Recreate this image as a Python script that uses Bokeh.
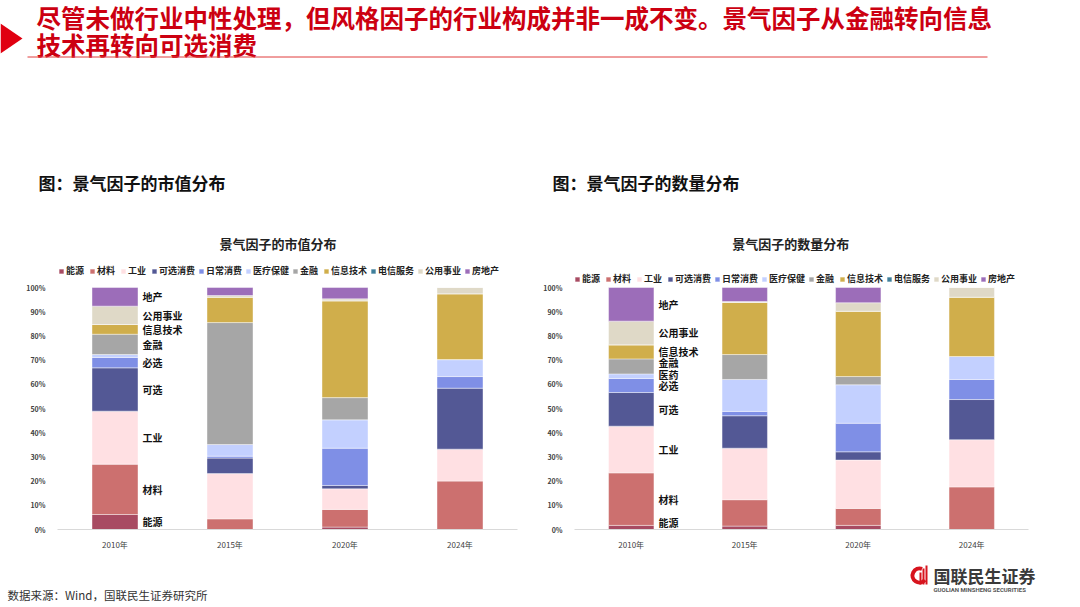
from bokeh.plotting import figure
from bokeh.models import Range1d, FixedTicker, PrintfTickFormatter, ColumnDataSource
from bokeh.layouts import column, row
from bokeh.embed import file_html
from bokeh.resources import INLINE
from bokeh.core.properties import value

# ---------------- data ----------------
years = ["2010年", "2015年", "2020年", "2024年"]
sectors = ["能源", "材料", "工业", "可选消费", "日常消费", "医疗保健", "金融",
           "信息技术", "电信服务", "公用事业", "房地产"]
colors = ["#A84B62", "#CC706F", "#FFE0E3", "#535895", "#7F8FE6", "#C3D0FF",
          "#A6A6A6", "#D0AE4B", "#3F7F9B", "#DFD9C7", "#9C6DB9"]

# 市值分布 (%), one list per sector across years
mv_energy     = [6.2, 0.0, 1.0, 0.0]
mv_materials  = [20.8, 4.4, 7.3, 20.0]
mv_industry   = [21.9, 18.7, 8.5, 13.2]
mv_discret    = [17.9, 6.4, 1.4, 25.2]
mv_staples    = [4.3, 0.8, 15.4, 4.8]
mv_health     = [1.2, 4.8, 11.7, 7.0]
mv_finance    = [8.4, 50.4, 9.2, 0.0]
mv_it         = [4.0, 10.5, 40.0, 27.2]
mv_telecom    = [0.0, 0.0, 0.0, 0.0]
mv_utilities  = [7.6, 0.7, 0.8, 2.6]
mv_realestate = [7.7, 3.3, 4.7, 0.0]

# 数量分布 (%)
ct_energy     = [1.7, 1.4, 1.7, 0.0]
ct_materials  = [21.7, 10.9, 7.0, 17.6]
ct_industry   = [19.3, 21.3, 20.0, 19.5]
ct_discret    = [13.9, 13.4, 3.4, 16.6]
ct_staples    = [5.8, 1.8, 11.8, 8.3]
ct_health     = [1.9, 13.2, 15.9, 9.5]
ct_finance    = [6.2, 10.3, 3.4, 0.0]
ct_it         = [5.8, 21.5, 27.0, 24.5]
ct_telecom    = [0.0, 0.0, 0.0, 0.0]
ct_utilities  = [9.8, 0.4, 3.5, 4.0]
ct_realestate = [13.9, 5.8, 6.3, 0.0]

mv_series = [mv_energy, mv_materials, mv_industry, mv_discret, mv_staples, mv_health,
             mv_finance, mv_it, mv_telecom, mv_utilities, mv_realestate]
ct_series = [ct_energy, ct_materials, ct_industry, ct_discret, ct_staples, ct_health,
             ct_finance, ct_it, ct_telecom, ct_utilities, ct_realestate]

# in-chart annotation labels (text, sector index) for the 2010 bar
mv_labels = [("能源", 0), ("材料", 1), ("工业", 2), ("可选", 3), ("必选", 4),
             ("金融", 6), ("信息技术", 7), ("公用事业", 9), ("地产", 10)]
ct_labels = [("能源", 0), ("材料", 1), ("工业", 2), ("可选", 3), ("必选", 4), ("医药", 5),
             ("金融", 6), ("信息技术", 7), ("公用事业", 9), ("地产", 10)]

header_title_1 = "尽管未做行业中性处理，但风格因子的行业构成并非一成不变。景气因子从金融转向信息"
header_title_2 = "技术再转向可选消费"
sub_left = "图：景气因子的市值分布"
sub_right = "图：景气因子的数量分布"
chart_title_left = "景气因子的市值分布"
chart_title_right = "景气因子的数量分布"
source_text = "数据来源：Wind，国联民生证券研究所"

FONT = value("Noto Sans CJK SC")
FONT_NAME = "Noto Sans CJK SC"

# ---------------- header (page coords 0..1064 x 0..200) ----------------
W = 1064
header = figure(width=W, height=200, x_range=Range1d(0, W), y_range=Range1d(200, 0),
                output_backend="svg", toolbar_location=None, min_border=0)
header.axis.visible = False
header.grid.visible = False
header.outline_line_color = None
header.patch([0, 0, 22], [23, 53, 38], color="#E00010", line_color=None)
header.text([36, 36], [17, 44], text=[header_title_1, header_title_2], text_font=FONT,
            text_font_size="24.5px", text_font_style="bold", text_color="#CC0011",
            text_baseline="middle", text_align="left")
header.line([27, 987], [56.5, 56.5], line_color="#E03C3C", line_width=1)
header.text([38, 552], [182, 182], text=[sub_left, sub_right], text_font=FONT,
            text_font_size="17px", text_font_style="bold", text_color="#111111",
            text_baseline="middle", text_align="left")

# ---------------- charts (page y 200..555) ----------------
CH_H = 355
FRAME_BOTTOM = 329          # figure px
PX_PER_UNIT = 2.42
Y_TOP = 100 + (FRAME_BOTTOM - 242) / PX_PER_UNIT
MIN_GAP = 4.7               # minimal vertical gap between segment labels (units)


def make_chart(series, labels, title, width, min_left, min_right, frame_left_page,
               title_x_page, legend_loc):
    data = {"x": list(range(len(years)))}
    for name, vals in zip(sectors, series):
        data[name] = vals
    src = ColumnDataSource(data)
    p = figure(width=width, height=CH_H, x_range=Range1d(-0.5, 3.5),
               y_range=Range1d(0, Y_TOP), output_backend="svg", toolbar_location=None,
               min_border_left=min_left, min_border_right=min_right,
               min_border_top=0, min_border_bottom=CH_H - FRAME_BOTTOM)
    p.outline_line_color = None
    p.grid.visible = False
    p.vbar_stack(sectors, x="x", width=0.4, color=colors, source=src,
                 line_color="white", line_width=0.6, line_alpha=0.7,
                 legend_label=sectors)

    # axes
    p.yaxis.ticker = FixedTicker(ticks=list(range(0, 101, 10)))
    p.yaxis.formatter = PrintfTickFormatter(format="%d%%")
    p.yaxis.axis_line_color = None
    p.yaxis.major_tick_line_color = None
    p.yaxis.minor_tick_line_color = None
    p.yaxis.major_label_text_font = FONT_NAME
    p.yaxis.major_label_text_font_size = "7px"
    p.yaxis.major_label_text_font_style = "bold"
    p.yaxis.major_label_text_color = "#404040"
    p.yaxis.major_label_standoff = 6

    p.xaxis.ticker = FixedTicker(ticks=list(range(len(years))))
    p.xaxis.major_label_overrides = {i: y for i, y in enumerate(years)}
    p.xaxis.axis_line_color = "#D9D9D9"
    p.xaxis.axis_line_width = 1.2
    p.xaxis.major_tick_line_color = None
    p.xaxis.minor_tick_line_color = None
    p.xaxis.major_label_text_font = FONT_NAME
    p.xaxis.major_label_text_font_size = "8px"
    p.xaxis.major_label_text_color = "#404040"
    p.xaxis.major_label_standoff = 3

    # legend
    lg = p.legend[0]
    lg.orientation = "horizontal"
    lg.location = legend_loc
    lg.label_text_font = FONT_NAME
    lg.label_text_font_size = "9px"
    lg.label_text_font_style = "bold"
    lg.label_text_color = "#222222"
    lg.glyph_width = 6
    lg.glyph_height = 6
    lg.label_standoff = 2
    lg.spacing = 3
    lg.padding = 0
    lg.margin = 0
    lg.label_height = 10
    lg.background_fill_alpha = 0
    lg.border_line_alpha = 0

    # chart title (positioned in data space of the frame)
    tx = (title_x_page - frame_left_page) / 115.0 - 0.5
    ty = Y_TOP - 43 / PX_PER_UNIT
    p.text([tx], [ty], text=[title], text_font=FONT, text_font_size="13px",
           text_font_style="bold", text_color="#222222", text_align="center",
           text_baseline="middle")

    # segment labels next to the 2010 bar, at segment midpoints (de-overlapped)
    first = [s[0] for s in series]
    lx, ly, lt = [], [], []
    prev = -100.0
    for txt, idx in labels:
        base = sum(first[:idx])
        mid = max(base + first[idx] / 2.0, 3.0, prev + MIN_GAP)
        prev = mid
        lx.append(0.24)
        ly.append(mid)
        lt.append(txt)
    p.text(lx, ly, text=lt, text_font=FONT, text_font_size="10px",
           text_font_style="bold", text_color="#111111", text_align="left",
           text_baseline="middle")
    return p


left = make_chart(mv_series, mv_labels, chart_title_left, 540, 57, 23, 57, 277.5, (1, 252))
right = make_chart(ct_series, ct_labels, chart_title_right, 532, 28, 44, 568, 787, (0, 244))

# ---------------- footer (page y 555..605) ----------------
footer = figure(width=W, height=50, x_range=Range1d(0, W), y_range=Range1d(605, 555),
                output_backend="svg", toolbar_location=None, min_border=0)
footer.axis.visible = False
footer.grid.visible = False
footer.outline_line_color = None
footer.text([7], [594], text=[source_text], text_font=FONT, text_font_size="11.5px",
            text_color="#333333", text_baseline="middle", text_align="left")
# logo
footer.annular_wedge([919], [575], inner_radius=5, outer_radius=9, start_angle=1.2,
                     end_angle=5.6, inner_radius_units="screen", outer_radius_units="screen",
                     color="#D7141E", line_color=None)
footer.quad(left=[919, 922, 925], right=[921, 924, 927], top=[572, 568, 565],
            bottom=[584, 584, 584], color="#D7141E", line_color=None)
footer.text([933], [575], text=["国联民生证券"], text_font=FONT, text_font_size="17px",
            text_font_style="bold", text_color="#3A3A3A", text_baseline="middle",
            text_align="left")
footer.text([933], [589], text=["GUOLIAN MINSHENG SECURITIES"], text_font=value("Roboto"),
            text_font_size="6px", text_font_style="bold", text_color="#555555",
            text_baseline="middle", text_align="left")

layout = column(header, row(left, right), footer)
open("out.html", "w").write(file_html(layout, INLINE))
